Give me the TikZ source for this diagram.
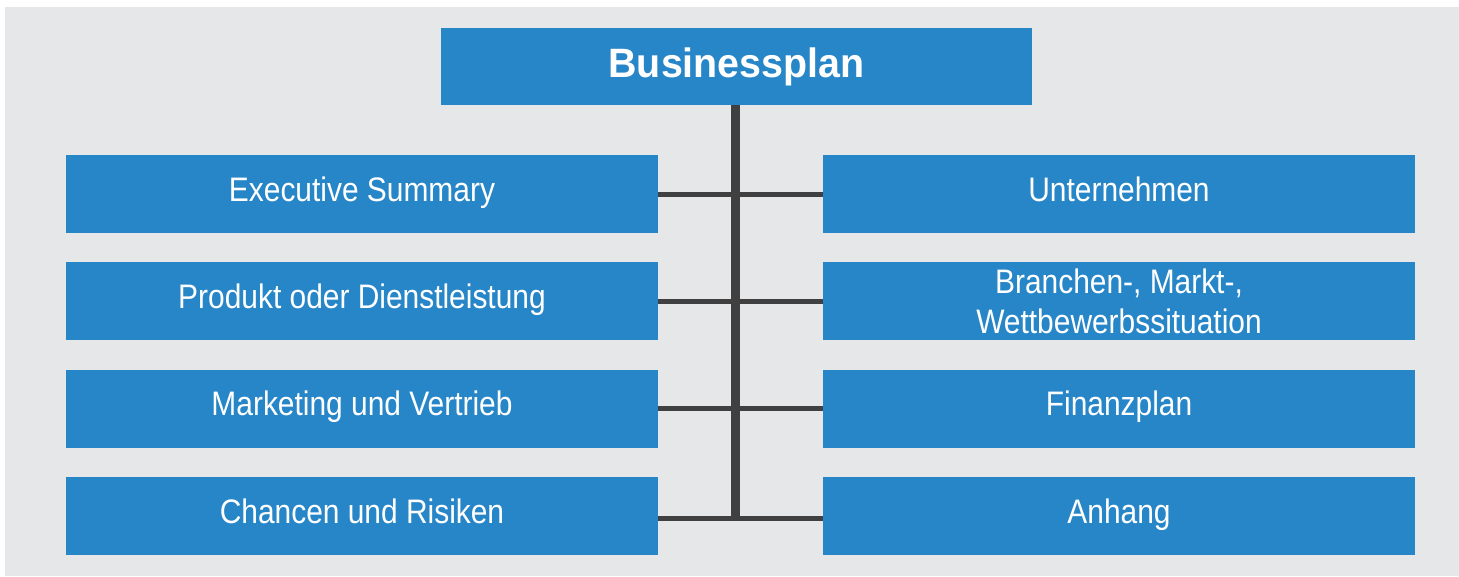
\documentclass[tikz,border=0pt]{standalone}
\usepackage{fontspec}
\setmainfont{Liberation Sans}
\newfontfamily\boxfont[FakeStretch=0.88]{Liberation Sans}
\newfontfamily\headfont[FakeStretch=0.96]{Liberation Sans}
\usetikzlibrary{positioning}

\definecolor{planblue}{RGB}{39,134,200}
\definecolor{planbg}{RGB}{230,231,233}
\definecolor{planline}{RGB}{64,64,64}

\begin{document}
\begin{tikzpicture}[x=1pt, y=-1pt,
  head/.style={fill=planblue, text=white, inner sep=0pt, minimum width=591pt, minimum height=77pt, font=\headfont\bfseries\fontsize{41}{48}\selectfont},
  part/.style={fill=planblue, text=white, inner sep=0pt, minimum width=592pt, minimum height=78pt, align=center, text height=24pt, text depth=10pt, font=\boxfont\fontsize{34}{40}\selectfont},
  trunk/.style={planline, line width=9pt},
  branch/.style={planline, line width=5pt}]
\useasboundingbox (0,0) rectangle (1459,576);
\fill[planbg] (5,7) rectangle (1459,576);

\node[head] (plan) at (736.5,66.5) {Businessplan};

% linke Spalte
\node[part] (exec) at (362,194) {Executive Summary};
\node[part] (prod) at (362,301) {Produkt oder Dienstleistung};
\node[part] (mark) at (362,408.5) {Marketing und Vertrieb};
\node[part] (chan) at (362,516) {Chancen und Risiken};

% rechte Spalte
\node[part] (untn) at (1119,194) {Unternehmen};
\node[part, text height=, text depth=] (bran) at (1119,301) {Branchen-, Markt-,\\Wettbewerbssituation};
\node[part] (finz) at (1119,408.5) {Finanzplan};
\node[part] (anhg) at (1119,516) {Anhang};

\coordinate (foot) at (735,518);
\draw[trunk] (plan.south -| foot) -- (foot);
\draw[branch] (exec.east) -- (untn.west);
\draw[branch] (prod.east) -- (bran.west);
\draw[branch] (mark.east) -- (finz.west);
\draw[branch] (chan.east |- foot) -- (anhg.west |- foot);
\end{tikzpicture}
\end{document}
